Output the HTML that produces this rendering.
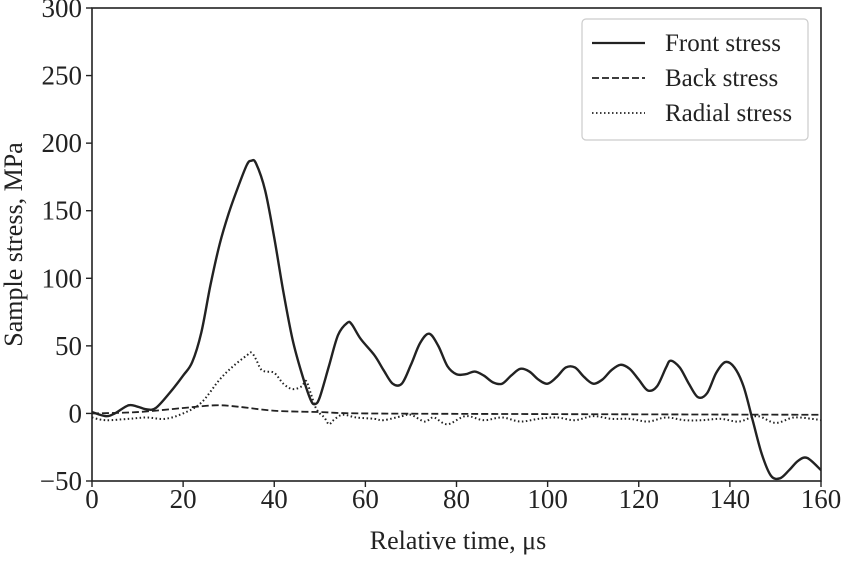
<!DOCTYPE html>
<html><head><meta charset="utf-8"><style>
body{margin:0;background:#fff;}
svg text{font-family:"Liberation Serif",serif;fill:#222;}
</style></head><body>
<svg id="c" width="842" height="558" xmlns="http://www.w3.org/2000/svg"></svg>
<script>
const frontT=[0,3,5,8,10,12,14,17,20,22,24,26,28,30,32,34,35,36,38,40,42,44,46,48,49,50,52,54,56,57,59,62,64,66,68,70,72,74,76,78,80,82,84,86,88,90,92,94,96,98,100,102,104,106,108,110,112,114,116,118,120,122,124,126,127,129,131,133,135,137,139,141,143,145,147,149,151,153,155,157,160];
const frontV=[1,-2,0,6,5,3,4,15,28,38,60,95,125,148,167,184,187,185,165,130,90,55,30,10,7,12,35,58,67,66,55,43,32,22,22,36,52,59,50,35,29,29,31,28,23,22,28,33,31,25,22,27,34,34,27,22,25,32,36,33,25,17,20,34,39,34,22,12,15,30,38,34,20,-5,-30,-46,-48,-42,-35,-33,-42];
const backT=[0,10,20,27,32,40,50,60,100,160];
const backV=[0,1,4,6,5,2,1,0,-0.5,-1];
const radT=[0,3,8,12,16,20,24,28,31,34,35,36,37,38,40,42,44,46,47,48,49,50,51,52,53,55,58,62,64,68,70,73,75,78,82,86,90,94,98,102,106,110,114,118,122,126,130,134,138,142,146,150,154,158,160];
const radV=[-3,-5,-4,-3,-4,0,8,25,35,43,45,40,33,31,30,22,18,20,24,15,5,0,-3,-8,-5,-1,-3,-4,-5,-2,-1,-6,-3,-8,-2,-5,-3,-6,-4,-3,-5,-2,-4,-4,-6,-3,-5,-5,-4,-6,-2,-7,-3,-4,-5];
const xTicks=[0,20,40,60,80,100,120,140,160];
const yTicks=[-50,0,50,100,150,200,250,300];
const X0=92,X1=821,Y0=481,Y1=8;
const sx=v=>X0+(v-0)/160*(X1-X0);
const sy=v=>Y0-(v+50)/350*(Y0-Y1);
const svg=document.getElementById('c');
const NS='http://www.w3.org/2000/svg';
function mk(t,a,p){const e=document.createElementNS(NS,t);for(const k in a)e.setAttribute(k,a[k]);(p||svg).appendChild(e);return e;}
function path(T,V){const P=T.map((t,i)=>[sx(t),sy(V[i])]);let d='M'+P[0][0]+','+P[0][1];
for(let i=0;i<P.length-1;i++){const p0=P[i-1]||P[i],p1=P[i],p2=P[i+1],p3=P[i+2]||p2;
d+=` C${p1[0]+(p2[0]-p0[0])/6},${p1[1]+(p2[1]-p0[1])/6} ${p2[0]-(p3[0]-p1[0])/6},${p2[1]-(p3[1]-p1[1])/6} ${p2[0]},${p2[1]}`;}return d;}
const clip=mk('clipPath',{id:'cl'});mk('rect',{x:X0,y:Y1,width:X1-X0,height:Y0-Y1},clip);
const g=mk('g',{'clip-path':'url(#cl)'});
let e;
e=mk('path',{d:path(backT,backV),fill:'none',stroke:'#222','stroke-width':1.8,'stroke-dasharray':'7,3'},g);

e=mk('path',{d:path(radT,radV),fill:'none',stroke:'#222','stroke-width':2,'stroke-dasharray':'1.5,2.5'},g);

e=mk('path',{d:path(frontT,frontV),fill:'none',stroke:'#222','stroke-width':2.4},g);

e=mk('rect',{x:X0,y:Y1,width:X1-X0,height:Y0-Y1,fill:'none',stroke:'#222','stroke-width':1.6});

xTicks.forEach(v=>{mk('line',{x1:sx(v),x2:sx(v),y1:Y0,y2:Y0+6,stroke:'#222','stroke-width':1.4});
const t=mk('text',{x:sx(v),y:Y0+27,'text-anchor':'middle','font-size':27});t.textContent=v;
});
yTicks.forEach(v=>{mk('line',{x1:X0-6,x2:X0,y1:sy(v),y2:sy(v),stroke:'#222','stroke-width':1.4});
const t=mk('text',{x:X0-10,y:sy(v)+9,'text-anchor':'end','font-size':27});t.textContent=v<0?'\u2212'+(-v):v;
});
e=mk('text',{x:458,y:549,'text-anchor':'middle','font-size':26});e.textContent='Relative time, \u03bcs';

e=mk('text',{x:0,y:0,'text-anchor':'middle','font-size':26,transform:`translate(22,${(Y0+Y1)/2}) rotate(-90)`});e.textContent='Sample stress, MPa';

const lg=mk('g',{});
mk('rect',{x:582,y:19,width:226,height:121,rx:4,fill:'#fff',stroke:'#ccc','stroke-width':1.2},lg);
[['Front stress','none'],['Back stress','7,3'],['Radial stress','1.5,2.5']].forEach((L,i)=>{const y=43+i*35;
mk('line',{x1:592,x2:645,y1:y,y2:y,stroke:'#222','stroke-width':i==0?2.2:1.8,'stroke-dasharray':L[1]},lg);
const t=mk('text',{x:665,y:y+8,'font-size':25},lg);t.textContent=L[0];
});
</script>
</body></html>
